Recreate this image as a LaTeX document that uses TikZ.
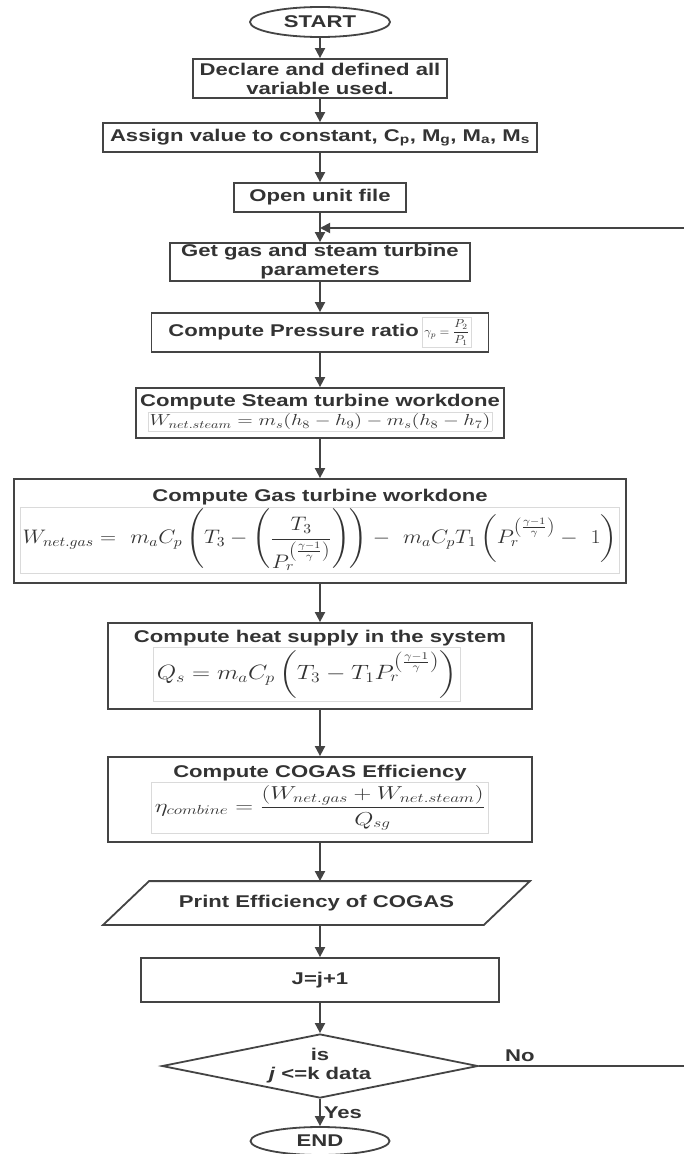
\documentclass[tikz,border=0pt]{standalone}
\usepackage{fix-cm}
\usepackage{amsmath}
\usepackage{graphicx}
\usepackage[no-math]{fontspec}
\setmainfont{Liberation Sans}[FakeStretch=1.3]
\usetikzlibrary{arrows.meta,shapes.geometric,calc}
\definecolor{ln}{HTML}{444444}
\definecolor{tx}{HTML}{333333}
\definecolor{fb}{HTML}{DADADA}
\newcommand{\fbx}[2][2pt]{{\setlength{\fboxrule}{0.6pt}\setlength{\fboxsep}{#1}\fcolorbox{fb}{white}{#2}}}
\tikzset{
  base/.style={draw=ln, line width=1.8pt, inner sep=0pt, text=tx,
    font=\fontsize{17}{19}\selectfont\bfseries, align=center},
  procbox/.style={base, rectangle},
  term/.style={base, ellipse},
  iobox/.style={base, rectangle, draw=none},
  decbox/.style={base, diamond, aspect=4.9},
  arr/.style={draw=ln, line width=1.8pt, -{Triangle[length=10pt,width=10pt]}},
  conn/.style={draw=ln, line width=1.8pt},
  lbl/.style={text=tx, font=\fontsize{17}{19}\selectfont\bfseries, inner sep=3pt}
}
\begin{document}
\begin{tikzpicture}[x=1pt,y=-1pt]
\fill[white] (0,0) rectangle (684,1154);
\useasboundingbox (0,0) rectangle (684,1154);

\node[term, minimum width=140pt, minimum height=30pt] (start) at (320,22) {START};
\node[procbox, minimum width=254pt, minimum height=39pt] (declare) at (320,78.5) {Declare and defined all\\variable used.};
\node[procbox, minimum width=434pt, minimum height=29pt] (assign) at (320,137.5) {Assign value to constant, C\textsubscript{p}, M\textsubscript{g}, M\textsubscript{a}, M\textsubscript{s}};
\node[procbox, minimum width=172pt, minimum height=29pt] (open) at (320,197.5) {Open unit file};
\node[procbox, minimum width=300pt, minimum height=38pt] (get) at (320,262) {Get gas and steam turbine\\parameters};
\node[procbox, minimum width=337pt, minimum height=39pt] (press) at (320,332.5) {Compute Pressure ratio\,$\vcenter{\hbox{\fbx[2pt]{\scalebox{1.1}[1]{\fontsize{11.5}{13}\selectfont$\displaystyle\gamma_p=\frac{P_2}{P_1}$}}}}$};
\node[procbox, minimum width=368pt, minimum height=50pt] (steam) at (320,413) {Compute Steam turbine workdone\\[0pt]
  \fbx[1.5pt]{\scalebox{1.27}[1]{\fontsize{16}{19}\selectfont$W_{net.steam} = m_s(h_8 - h_9) - m_s(h_8 - h_7)$}}};
\node[procbox, minimum width=612pt, minimum height=104pt] (gas) at (320,531) {Compute Gas turbine workdone\\[1pt]
  \fbx{\scalebox{1.31}[1.15]{\fontsize{17}{20}\selectfont$\displaystyle W_{net.gas} =\ m_aC_p\left(T_3-\left(\frac{T_3}{P_r^{\left(\frac{\gamma-1}{\gamma}\right)}}\right)\right)-\ m_aC_pT_1\left(P_r^{\left(\frac{\gamma-1}{\gamma}\right)}-\ 1\right)$}}};
\node[procbox, minimum width=424pt, minimum height=86pt] (heat) at (320,666) {Compute heat supply in the system\\[0pt]
  \hspace*{-26pt}\fbx[3pt]{\scalebox{1.39}[1.15]{\fontsize{18}{22}\selectfont$\displaystyle Q_s = m_aC_p\left(T_3 - T_1P_r^{\left(\frac{\gamma-1}{\gamma}\right)}\right)$}}};
\node[procbox, minimum width=424pt, minimum height=85pt] (cogas) at (320,799.5) {Compute COGAS Efficiency\\[0pt]
  \fbx[3pt]{\scalebox{1.41}[1.07]{\fontsize{17.5}{20}\selectfont$\displaystyle \eta_{combine}=\frac{(W_{net.gas}+W_{net.steam})}{Q_{sg}}$}}};
\node[iobox, minimum width=425pt, minimum height=42pt] (print) at (316.5,903) {Print Efficiency of COGAS};
\draw[conn, line join=miter] (print.south west) -- ($(print.north west)+(46,0)$) -- (print.north east) -- ($(print.south east)+(-46,0)$) -- cycle;
\node[procbox, minimum width=358pt, minimum height=44pt] (jbox) at (320,980) {J=j+1};
\node[decbox, minimum width=316pt, minimum height=64pt] (dec) at (320,1066) {is\\\textit{j} <=k data};
\node[term, minimum width=139pt, minimum height=28pt] (end) at (320,1141) {END};

\coordinate (noR) at (684,1066);
\coordinate (loopR) at (684,228);

\draw[arr] (start) -- (declare);
\draw[arr] (declare) -- (assign);
\draw[arr] (assign) -- (open);
\draw[arr] (open) -- (get);
\draw[arr] (get) -- (press);
\draw[arr] (press) -- (steam);
\draw[arr] (steam) -- (gas);
\draw[arr] (gas) -- (heat);
\draw[arr] (heat) -- (cogas);
\draw[arr] (cogas) -- (print.north -| cogas.south);
\draw[arr] (print.south -| jbox.north) -- (jbox);
\draw[arr] (jbox) -- (dec);
\draw[arr] (dec) -- node[lbl, right, pos=0.5] {Yes} (end);
\draw[conn] (dec.east) -- node[lbl, above, pos=0.2] {No} (noR);
\draw[arr] (loopR) -- (loopR -| open.south);
\end{tikzpicture}
\end{document}
